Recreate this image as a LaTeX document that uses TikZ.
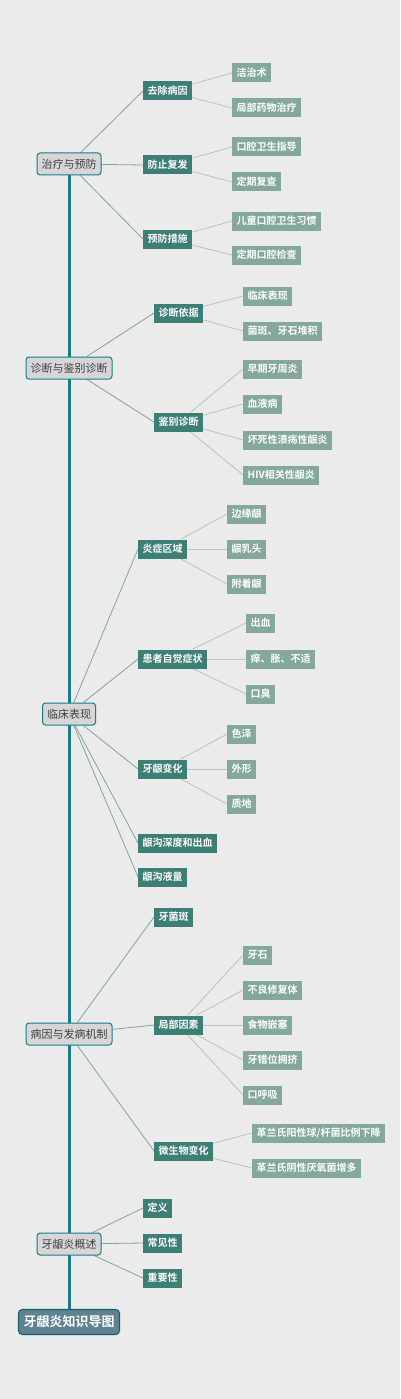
\documentclass[tikz,border=0pt]{standalone}
\usepackage{fontspec}
\setmainfont{Noto Sans CJK SC}
\newfontfamily\cjkbold{Noto Sans CJK SC Bold}
\usetikzlibrary{backgrounds}
\definecolor{bgcol}{HTML}{EBEBEB}
\definecolor{trunkcol}{HTML}{177C87}
\definecolor{topiccol}{HTML}{D6D6D6}
\definecolor{subcol}{HTML}{3D7F74}
\definecolor{leafcol}{HTML}{84A99A}
\definecolor{rootcol}{HTML}{5F8390}
\definecolor{subline}{HTML}{7FA59C}
\definecolor{leafline}{HTML}{B3C6BF}

\begin{document}
\begin{tikzpicture}[x=1pt, y=-1pt,
  root/.style={rectangle, rounded corners=4pt, draw=trunkcol!80!black, line width=1.2pt, fill=rootcol, text=white, font=\cjkbold\fontsize{13}{15}\selectfont, minimum height=25pt, inner xsep=5pt},
  topic/.style={rectangle, rounded corners=3pt, draw=trunkcol, line width=1pt, fill=topiccol, text=black!75, font=\fontsize{11}{13}\selectfont, minimum height=22pt, inner xsep=4.5pt},
  subnode/.style={rectangle, fill=subcol, text=white, font=\cjkbold\fontsize{10}{12}\selectfont, minimum height=19pt, inner xsep=4.5pt},
  leaf/.style={rectangle, fill=leafcol, text=white, font=\cjkbold\fontsize{10}{12}\selectfont, minimum height=19pt, inner xsep=4.5pt},
  tosub/.style={draw=subline, line width=0.8pt},
  toleaf/.style={draw=leafline, line width=0.8pt},
  trunk/.style={draw=trunkcol, line width=3pt}]
  \useasboundingbox (0,0) rectangle (400,1399);
  % Root and topics
  \node (root) [root] at (69,1322) {牙龈炎知识导图};
  \node (t-zl) [topic] at (69,164) {治疗与预防};
  \node (t-zd) [topic] at (69,368) {诊断与鉴别诊断};
  \node (t-lc) [topic] at (69,714) {临床表现};
  \node (t-by) [topic] at (69,1034) {病因与发病机制};
  \node (t-gs) [topic] at (69,1244) {牙龈炎概述};
  % Sub nodes
  \node (s-qc) [subnode, anchor=west] at (143,91) {去除病因};
  \node (s-fz) [subnode, anchor=west] at (143,165) {防止复发};
  \node (s-yf) [subnode, anchor=west] at (143,239) {预防措施};
  \node (s-zd) [subnode, anchor=west] at (154,313) {诊断依据};
  \node (s-jb) [subnode, anchor=west] at (154,422) {鉴别诊断};
  \node (s-yz) [subnode, anchor=west] at (138,549) {炎症区域};
  \node (s-hz) [subnode, anchor=west] at (138,659) {患者自觉症状};
  \node (s-yy) [subnode, anchor=west] at (138,769) {牙龈变化};
  \node (s-sd) [subnode, anchor=west] at (138,843) {龈沟深度和出血};
  \node (s-yl) [subnode, anchor=west] at (138,877) {龈沟液量};
  \node (s-jb2) [subnode, anchor=west] at (154,917) {牙菌斑};
  \node (s-jy) [subnode, anchor=west] at (154,1025) {局部因素};
  \node (s-ws) [subnode, anchor=west] at (154,1151) {微生物变化};
  \node (s-dy) [subnode, anchor=west] at (143,1208) {定义};
  \node (s-cj) [subnode, anchor=west] at (143,1243) {常见性};
  \node (s-zy) [subnode, anchor=west] at (143,1278) {重要性};
  % Leaves
  \node (l-jz) [leaf, anchor=west] at (232,73) {洁治术};
  \node (l-jb) [leaf, anchor=west] at (232,108) {局部药物治疗};
  \node (l-kq) [leaf, anchor=west] at (232,147) {口腔卫生指导};
  \node (l-dq) [leaf, anchor=west] at (232,182) {定期复查};
  \node (l-et) [leaf, anchor=west] at (232,221) {儿童口腔卫生习惯};
  \node (l-dk) [leaf, anchor=west] at (232,255) {定期口腔检查};
  \node (l-lc) [leaf, anchor=west] at (243,296) {临床表现};
  \node (l-jb3) [leaf, anchor=west] at (243,331) {菌斑、牙石堆积};
  \node (l-zq) [leaf, anchor=west] at (243,369) {早期牙周炎};
  \node (l-xy) [leaf, anchor=west] at (243,404) {血液病};
  \node (l-hs) [leaf, anchor=west] at (243,440) {坏死性溃疡性龈炎};
  \node (l-hiv) [leaf, anchor=west] at (243,475) {HIV相关性龈炎};
  \node (l-by) [leaf, anchor=west] at (227,514) {边缘龈};
  \node (l-yr) [leaf, anchor=west] at (227,549) {龈乳头};
  \node (l-fz) [leaf, anchor=west] at (227,584) {附着龈};
  \node (l-cx) [leaf, anchor=west] at (246,623) {出血};
  \node (l-yz) [leaf, anchor=west] at (246,659) {痒、胀、不适};
  \node (l-kc) [leaf, anchor=west] at (246,694) {口臭};
  \node (l-sz) [leaf, anchor=west] at (227,734) {色泽};
  \node (l-wx) [leaf, anchor=west] at (227,769) {外形};
  \node (l-zd) [leaf, anchor=west] at (227,804) {质地};
  \node (l-ys) [leaf, anchor=west] at (243,955) {牙石};
  \node (l-bl) [leaf, anchor=west] at (243,990) {不良修复体};
  \node (l-sw) [leaf, anchor=west] at (243,1025) {食物嵌塞};
  \node (l-cw) [leaf, anchor=west] at (243,1060) {牙错位拥挤};
  \node (l-hx) [leaf, anchor=west] at (243,1095) {口呼吸};
  \node (l-yx) [leaf, anchor=west] at (252,1133) {革兰氏阳性球/杆菌比例下降};
  \node (l-yy) [leaf, anchor=west] at (252,1168) {革兰氏阴性厌氧菌增多};
  % Lines
  \begin{pgfonlayer}{background}
    \fill[bgcol] (0,0) rectangle (400,1399);
    \draw[trunk] (root) -- (t-zl);
    \draw[tosub] (t-zl) -- (s-qc.west);
    \draw[tosub] (t-zl) -- (s-fz.west);
    \draw[tosub] (t-zl) -- (s-yf.west);
    \draw[tosub] (t-zd) -- (s-zd.west);
    \draw[tosub] (t-zd) -- (s-jb.west);
    \draw[tosub] (t-lc) -- (s-yz.west);
    \draw[tosub] (t-lc) -- (s-hz.west);
    \draw[tosub] (t-lc) -- (s-yy.west);
    \draw[tosub] (t-lc) -- (s-sd.west);
    \draw[tosub] (t-lc) -- (s-yl.west);
    \draw[tosub] (t-by) -- (s-jb2.west);
    \draw[tosub] (t-by) -- (s-jy.west);
    \draw[tosub] (t-by) -- (s-ws.west);
    \draw[tosub] (t-gs) -- (s-dy.west);
    \draw[tosub] (t-gs) -- (s-cj.west);
    \draw[tosub] (t-gs) -- (s-zy.west);
    \draw[toleaf] (s-qc) -- (l-jz.west);
    \draw[toleaf] (s-qc) -- (l-jb.west);
    \draw[toleaf] (s-fz) -- (l-kq.west);
    \draw[toleaf] (s-fz) -- (l-dq.west);
    \draw[toleaf] (s-yf) -- (l-et.west);
    \draw[toleaf] (s-yf) -- (l-dk.west);
    \draw[toleaf] (s-zd) -- (l-lc.west);
    \draw[toleaf] (s-zd) -- (l-jb3.west);
    \draw[toleaf] (s-jb) -- (l-zq.west);
    \draw[toleaf] (s-jb) -- (l-xy.west);
    \draw[toleaf] (s-jb) -- (l-hs.west);
    \draw[toleaf] (s-jb) -- (l-hiv.west);
    \draw[toleaf] (s-yz) -- (l-by.west);
    \draw[toleaf] (s-yz) -- (l-yr.west);
    \draw[toleaf] (s-yz) -- (l-fz.west);
    \draw[toleaf] (s-hz) -- (l-cx.west);
    \draw[toleaf] (s-hz) -- (l-yz.west);
    \draw[toleaf] (s-hz) -- (l-kc.west);
    \draw[toleaf] (s-yy) -- (l-sz.west);
    \draw[toleaf] (s-yy) -- (l-wx.west);
    \draw[toleaf] (s-yy) -- (l-zd.west);
    \draw[toleaf] (s-jy) -- (l-ys.west);
    \draw[toleaf] (s-jy) -- (l-bl.west);
    \draw[toleaf] (s-jy) -- (l-sw.west);
    \draw[toleaf] (s-jy) -- (l-cw.west);
    \draw[toleaf] (s-jy) -- (l-hx.west);
    \draw[toleaf] (s-ws) -- (l-yx.west);
    \draw[toleaf] (s-ws) -- (l-yy.west);
  \end{pgfonlayer}
\end{tikzpicture}
\end{document}
